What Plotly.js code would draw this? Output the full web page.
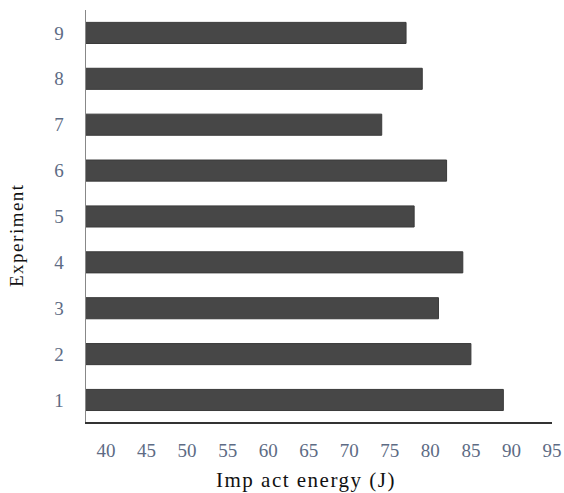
<!DOCTYPE html>
<html><head><meta charset="utf-8">
<script src="https://cdn.plot.ly/plotly-3.0.1.min.js"></script>
<style>html,body{margin:0;padding:0;background:#fff}#c{width:564px;height:493px}
.annotation-text{letter-spacing:1.5px !important}</style>
</head><body><div id="c"></div>
<script>
const experiments = [1, 2, 3, 4, 5, 6, 7, 8, 9];
const impactEnergy = [89, 85, 81, 84, 78, 82, 74, 79, 77];
const xTicks = [40, 45, 50, 55, 60, 65, 70, 75, 80, 85, 90, 95];
const xTitle = 'Imp act energy (J)';
const yTitle = 'Experiment';

const trace = {
  type: 'bar', orientation: 'h',
  x: impactEnergy, y: experiments,
  base: 0,
  marker: {color: '#474747', line: {color: '#3a3a3a', width: 1}},
  width: 0.46,
  hoverinfo: 'x+y'
};
const serif = 'Liberation Serif, Times New Roman, serif';
const tickFont = {family: serif, size: 19, color: '#5d6b84'};
const layout = {
  width: 564, height: 493,
  margin: {l: 86, r: 12, t: 10, b: 71},
  paper_bgcolor: '#fff', plot_bgcolor: '#fff',
  showlegend: false,
  xaxis: {
    range: [37.53, 95.0], tickvals: xTicks, ticktext: xTicks.map(String),
    showgrid: false, zeroline: false, showline: true, linecolor: '#333', linewidth: 1.5,
    ticks: '', tickfont: tickFont, ticklabelstandoff: 11
  },
  yaxis: {
    range: [0.52, 9.5], tickvals: experiments, ticktext: experiments.map(String),
    showgrid: false, zeroline: false, showline: true, linecolor: '#888', linewidth: 1.5,
    ticks: '', tickfont: tickFont, ticklabelstandoff: 17
  },
  annotations: [
    {text: xTitle, xref: 'paper', yref: 'paper', x: 0.472, y: -0.141, xanchor: 'center', yanchor: 'middle',
     showarrow: false, font: {family: serif, size: 21, color: '#111'}},
    {text: yTitle, xref: 'paper', yref: 'paper', x: -0.148, y: 0.454, xanchor: 'center', yanchor: 'middle',
     textangle: -90, showarrow: false, font: {family: serif, size: 19, color: '#111'}}
  ]
};
Plotly.newPlot('c', [trace], layout, {displayModeBar: false, staticPlot: true});
</script></body></html>
